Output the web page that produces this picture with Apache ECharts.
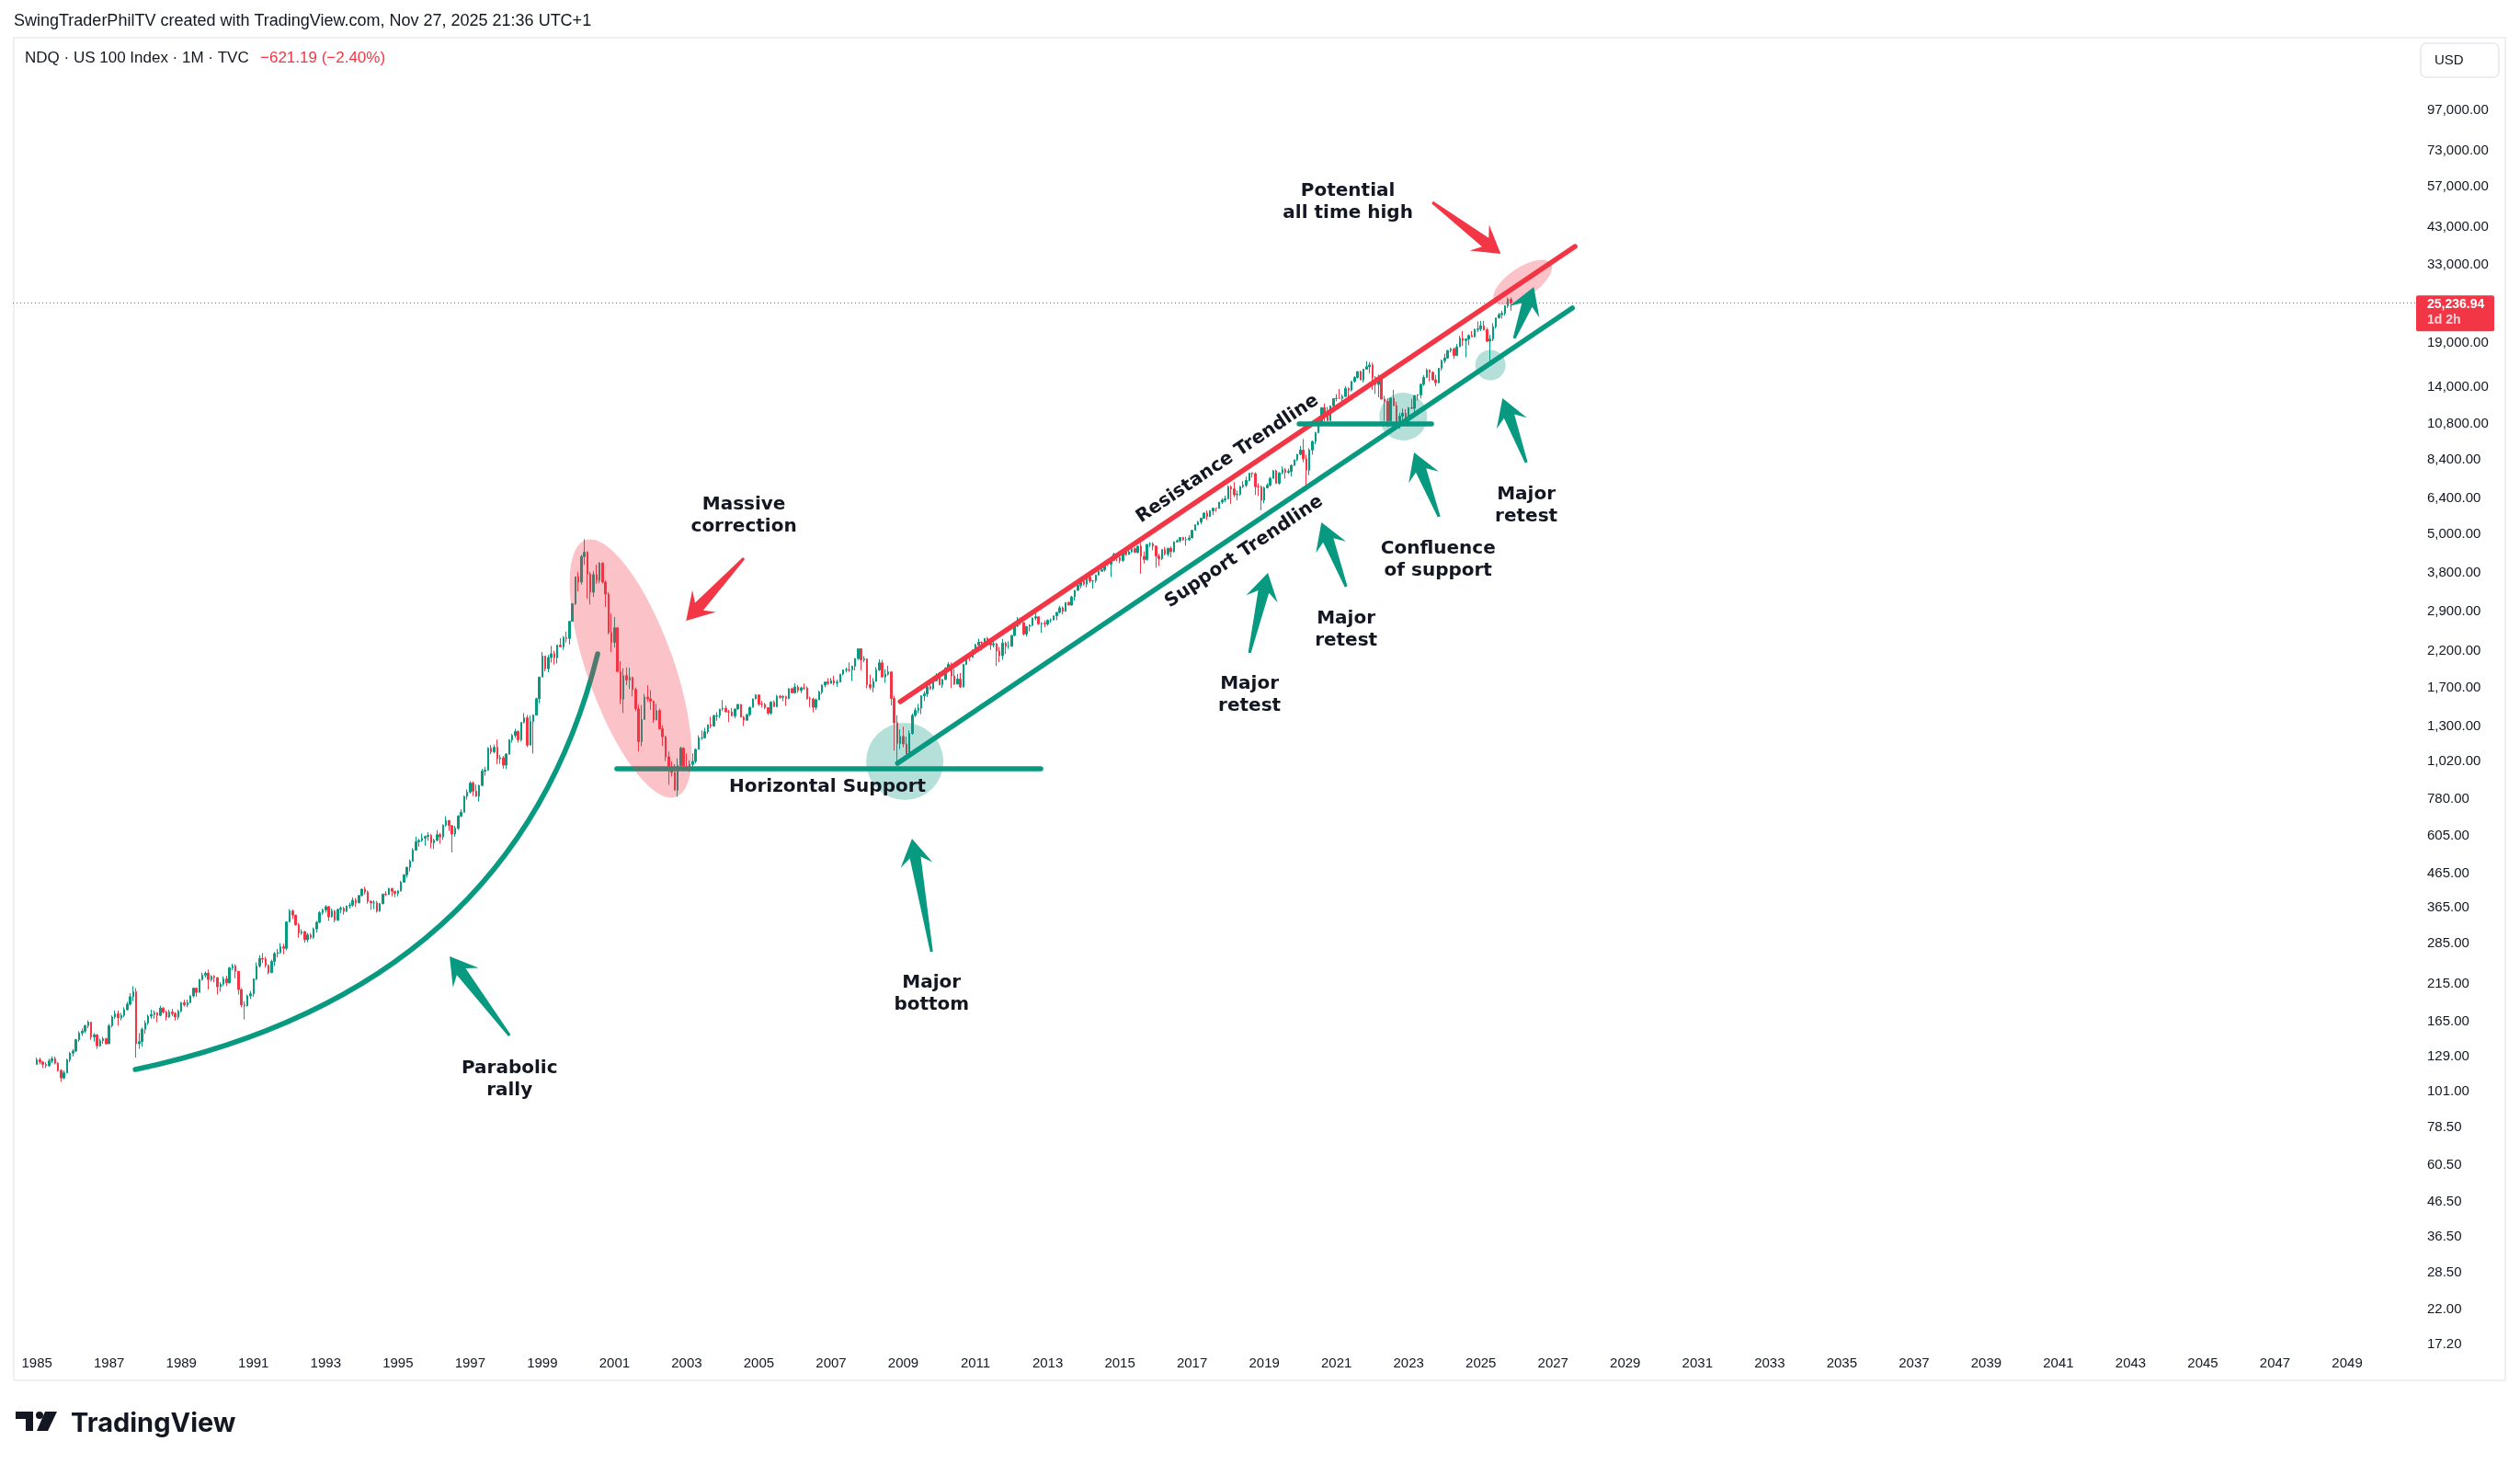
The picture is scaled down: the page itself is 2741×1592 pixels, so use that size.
<!DOCTYPE html>
<html><head><meta charset="utf-8">
<script src="https://cdn.jsdelivr.net/npm/echarts@6/dist/echarts.min.js"></script>
<style>html,body{margin:0;padding:0;background:#fff}#c{width:2741px;height:1592px}</style>
</head><body><div id="c"></div>
<script>
// ---------------- DATA (NDQ · US 100 Index, monthly, Jan 1985 .. Nov 2025) ----------------
const startYear = 1985;
const firstOpen = 122;
const closes = [
126,124,122,121,125,127,123,117,111,115,126,132,
134,145,152,154,160,164,148,150,139,144,146,141,
160,170,174,169,172,179,186,196,203,141,143,156,
163,171,173,175,172,181,176,170,176,174,170,177,
188,185,188,197,208,202,221,228,231,221,226,224,
210,214,222,216,240,243,234,206,185,184,197,200,
222,243,256,255,244,232,251,265,267,278,275,331,
357,347,324,306,309,292,302,297,315,330,353,360,
368,343,357,335,361,364,356,370,372,385,378,398,
416,408,382,378,378,357,376,402,401,418,410,404,
411,437,460,485,506,547,580,585,594,601,606,576,
586,609,600,651,673,649,612,637,694,713,797,821,
874,826,797,860,950,957,1116,1088,1123,1036,1044,991,
1071,1183,1221,1254,1184,1337,1381,1140,1345,1407,1578,1836,
2128,1947,2106,2162,2104,2296,2270,2421,2407,2713,3069,3708,
3570,4266,4398,3773,3324,3763,3609,4078,3570,3282,2507,2341,
2593,1908,1573,1855,1799,1830,1683,1470,1169,1364,1596,1577,
1550,1359,1452,1278,1209,1051,963,942,832,989,1116,984,
976,996,1018,1107,1201,1201,1252,1316,1303,1400,1403,1468,
1476,1441,1438,1400,1468,1516,1387,1358,1412,1486,1576,1621,
1519,1516,1483,1427,1542,1494,1605,1594,1601,1580,1693,1645,
1713,1672,1703,1701,1580,1575,1486,1567,1654,1736,1774,1757,
1792,1761,1772,1874,1929,1934,1932,1981,2091,2239,2071,2085,
1741,1709,1781,1930,2029,1837,1872,1904,1580,1333,1154,1212,
1149,1071,1238,1404,1455,1477,1611,1632,1717,1695,1789,1860,
1741,1804,1957,2006,1850,1748,1811,1714,2007,2120,2109,2218,
2300,2345,2338,2408,2378,2300,2318,2204,2132,2330,2277,2278,
2459,2623,2755,2690,2482,2616,2640,2776,2799,2666,2676,2661,
2731,2738,2819,2889,2983,2910,3096,3040,3219,3371,3488,3592,
3521,3698,3596,3608,3752,3850,3889,4082,4049,4158,4337,4236,
4152,4463,4333,4415,4508,4397,4589,4275,4182,4648,4665,4593,
4280,4202,4483,4341,4523,4418,4730,4771,4875,4801,4810,4864,
5129,5330,5436,5583,5788,5646,5880,5988,5979,6248,6337,6396,
6949,6853,6581,6605,6967,7040,7272,7659,7628,6967,6950,6330,
6907,7033,7378,7781,7127,7672,7849,7692,7749,8084,8406,8733,
8991,8462,7813,9000,9555,10157,10905,12111,11418,11052,12268,12888,
12925,12909,13091,13861,13686,14554,14960,15582,14690,15850,16135,16320,
14930,14237,14838,12855,12642,11028,12947,12272,10971,11405,11658,10940,
12102,12042,13181,13246,14254,14964,15758,15501,14715,14410,15947,16826,
17137,18044,18255,17441,18537,19683,19363,19575,20061,19890,20930,21012,
21478,20884,19278,19571,21341,22679,23218,23415,24680,25858,25236.94
];
const highs = [
128,128,125,124,127,129,129,124,118,117,127,133,
136,146,154,157,161,166,164,152,151,146,148,147,
162,172,178,178,175,182,189,201,211,208,152,158,
166,173,179,178,176,184,182,178,179,180,176,179,
189,192,192,198,209,209,222,232,234,237,228,228,
224,217,226,227,241,247,246,233,208,190,199,204,
223,249,262,266,259,246,254,268,274,285,284,332,
362,361,347,328,314,311,306,306,318,333,357,363,
372,370,363,360,363,369,368,371,379,393,391,399,
418,423,412,385,385,383,377,403,410,420,420,409,
413,441,462,486,512,554,601,592,614,606,620,612,
592,629,617,655,693,674,651,648,699,728,800,836,
886,885,865,864,966,980,1124,1141,1145,1185,1066,1057,
1078,1189,1233,1278,1265,1337,1427,1408,1402,1415,1590,1840,
2189,2114,2144,2285,2207,2304,2410,2445,2524,2717,3070,3710,
3836,4324,4816,4431,3839,3859,4030,4112,4100,3609,3331,2866,
2797,2577,2050,1953,1966,1961,1842,1707,1515,1510,1632,1734,
1675,1558,1524,1473,1310,1220,1091,1016,998,1040,1129,1125,
1076,1025,1077,1114,1221,1264,1287,1318,1392,1413,1436,1470,
1564,1504,1459,1479,1472,1521,1520,1399,1420,1492,1580,1627,
1624,1553,1533,1486,1551,1561,1621,1621,1618,1612,1700,1706,
1758,1738,1717,1756,1720,1601,1590,1583,1671,1745,1780,1821,
1825,1854,1804,1877,1938,1962,2034,1989,2095,2239,2236,2128,
2084,1867,1824,1970,2079,2069,1940,1987,1913,1611,1406,1273,
1298,1211,1264,1424,1482,1522,1615,1661,1735,1772,1807,1885,
1903,1812,1966,2039,2032,1943,1875,1890,2011,2130,2139,2225,
2322,2403,2355,2410,2432,2385,2437,2332,2266,2398,2354,2360,
2461,2629,2795,2784,2690,2625,2660,2787,2878,2808,2696,2732,
2750,2769,2823,2890,3025,3012,3097,3118,3244,3373,3510,3602,
3625,3708,3739,3611,3756,3859,3967,4083,4114,4166,4384,4323,
4282,4467,4484,4514,4550,4563,4610,4695,4426,4654,4719,4719,
4590,4351,4492,4566,4543,4587,4749,4815,4893,4904,4902,4966,
5140,5342,5478,5596,5826,5896,5913,6011,6005,6249,6422,6537,
7023,7022,7187,6777,6997,7242,7466,7660,7697,7700,7120,7022,
6964,7131,7460,7834,7851,7696,8027,7932,7906,8125,8411,8750,
9261,9718,8705,9109,9612,10221,10914,12111,12466,12173,12289,12903,
13309,13807,13277,14064,13947,14572,15084,15598,15701,15871,16765,16660,
16574,15100,15265,15060,13150,12949,12977,13720,12615,11682,12030,11978,
12164,12880,13204,13292,14345,15185,15932,15822,15619,15225,16003,16969,
17665,18138,18417,18465,18909,20017,20691,19673,20225,20690,21060,22133,
22223,22223,21185,20138,21858,22717,23499,23866,24767,26182,26183
];
const lows = [
122,122,119,119,120,123,122,116,108,110,115,124,
129,133,143,149,152,157,145,143,136,138,141,140,
141,158,168,160,166,170,178,184,190,128,136,138,
151,161,168,168,164,171,174,166,169,171,166,167,
176,183,182,187,195,196,202,219,224,206,218,217,
199,203,211,211,215,236,223,199,182,167,183,193,
196,220,240,248,240,229,231,243,258,265,264,271,
330,338,322,296,302,286,287,293,294,307,328,348,
353,333,341,330,333,352,348,355,363,368,367,377,
395,401,376,360,362,353,355,374,396,399,396,393,
396,409,436,451,471,505,549,560,580,564,584,553,
551,581,572,588,645,626,538,601,630,688,712,779,
812,798,794,768,856,921,953,1070,1076,999,1001,967,
964,1066,1160,1199,1161,1170,1327,1123,1139,1075,1406,1528,
1845,1911,1900,2031,2004,2019,2262,2222,2339,2306,2704,3041,
3343,3511,4030,3179,3052,3219,3530,3542,3538,2999,2474,2188,
2259,1908,1520,1427,1735,1689,1604,1447,1090,1131,1369,1547,
1461,1334,1378,1271,1135,1020,864,916,829,795,965,976,
957,945,956,1003,1105,1183,1196,1233,1283,1311,1352,1379,
1446,1434,1340,1396,1376,1460,1385,1304,1353,1394,1491,1571,
1499,1484,1465,1407,1410,1489,1485,1577,1551,1501,1571,1638,
1635,1646,1642,1680,1567,1489,1435,1460,1563,1628,1710,1737,
1756,1737,1715,1787,1858,1897,1901,1785,1924,2067,1927,2036,
1697,1680,1650,1781,1915,1837,1765,1855,1505,1097,1010,1109,
1123,1071,1043,1227,1389,1426,1417,1553,1598,1676,1677,1782,
1733,1701,1807,1961,1700,1738,1750,1700,1706,2003,2054,2102,
2215,2274,2209,2312,2327,2221,2260,1984,2037,2073,2160,2237,
2277,2444,2601,2644,2456,2442,2528,2620,2731,2646,2501,2602,
2627,2689,2737,2733,2870,2847,2907,3039,3027,3137,3358,3417,
3485,3443,3547,3413,3556,3737,3854,3842,3993,3700,4150,4125,
4072,4114,4290,4324,4375,4384,4363,3787,4073,4148,4568,4458,
3948,3996,4162,4303,4277,4245,4394,4715,4709,4777,4605,4764,
4878,5125,5339,5350,5570,5519,5659,5708,5839,5989,6167,6242,
6397,6165,6477,6322,6541,6898,6938,7234,7413,6570,6535,5899,
6198,6911,6968,7376,7101,7065,7593,7361,7622,7481,8046,8323,
8677,8265,6771,7544,8708,9382,10120,10871,10677,11036,11176,12160,
12670,12873,12209,13236,12934,13555,14422,14850,14686,14437,15809,15385,
13725,13322,13020,12812,11036,10565,11069,12257,10953,10441,10934,10672,
10797,11974,11695,12725,12912,14096,14898,14557,14634,14058,14354,15695,
16539,17044,17812,17033,17372,18526,18643,17221,18746,19834,19795,20538,
20671,20779,19153,16542,19270,21071,22645,22589,23084,24320,23855
];
const yTickLabels = [97000,73000,57000,43000,33000,19000,14000,10800,8400,6400,5000,3800,2900,2200,1700,1300,1020,780,605,465,365,285,215,165,129,101,78.5,60.5,46.5,36.5,28.5,22,17.2];
const xTickYears = [1985,1987,1989,1991,1993,1995,1997,1999,2001,2003,2005,2007,2009,2011,2013,2015,2017,2019,2021,2023,2025,2027,2029,2031,2033,2035,2037,2039,2041,2043,2045,2047,2049];
const lastPrice = 25236.94;
const lastChange = '\u2212621.19 (\u22122.40%)';

// ---------------- ANNOTATIONS (data space: [month index from Jan 1985, price]) ----------------
const trendLines = [
  {color:'red',   pts:[[287.0,1546],[511.3,37410]]},   // resistance
  {color:'green', pts:[[286.1,1004.4],[510.4,24310]]}, // support
  {color:'green', pts:[[192.8,966.2],[333.7,966.2]]},  // horizontal support
  {color:'green', pts:[[419.6,10802],[463.6,10802]]}   // confluence level
];
const parabola = {from:[32.7,117.7], ctrl:[158.9,207.5], to:[186.4,2161]};
const arrows = [
  {color:'green', tip:[137.2,259.9], tail:[157.1,149.4]},
  {color:'red',   tip:[215.8,2724],  tail:[235.0,4220]},
  {color:'green', tip:[290.9,592.6], tail:[297.4,268.5]},
  {color:'green', tip:[409.2,3807],  tail:[403.1,2175]},
  {color:'green', tip:[427.0,5425],  tail:[435.2,3456]},
  {color:'green', tip:[457.8,8848],  tail:[466.1,5638]},
  {color:'green', tip:[487.2,12935], tail:[495.1,8246]},
  {color:'green', tip:[497.6,28180], tail:[491.1,19660]},
  {color:'red',   tip:[486.6,35540], tail:[463.9,50950]}
];
const notes = [
  {text:'Massive\ncorrection', at:[235.0,5675]},
  {text:'Potential\nall time high', at:[435.8,51120]},
  {text:'Horizontal Support', at:[262.8,849.6]},
  {text:'Major\nbottom', at:[297.4,199.6]},
  {text:'Parabolic\nrally', at:[157.1,110.1]},
  {text:'Major\nretest', at:[403.1,1623]},
  {text:'Major\nretest', at:[435.2,2563]},
  {text:'Confluence\nof support', at:[465.8,4168]},
  {text:'Major\nretest', at:[495.1,6090]}
];
const lineNotes = [
  {text:'Resistance Trendline', at:[395.8,8458], line:0},
  {text:'Support Trendline', at:[401.3,4415], line:1}
];
const circles = [{at:[288.5,1017], r:42}, {at:[454.2,11371], r:26}, {at:[483.2,16312], r:16.5}];
const ellipses = [{at:[197.4,1949], rx:148, ry:47, deg:-70.5}, {at:[493.9,29110], rx:37, ry:16, line:0}];

// ---------------- CHART ----------------
const GREEN = '#089981', RED = '#F23645', TXT = '#131722';
const COL = {green:GREEN, red:RED};
const chart = echarts.init(document.getElementById('c'), null, {width:2741, height:1592});

const candles = closes.map((c, i) => {
  const o = i === 0 ? firstOpen : closes[i - 1];
  return [i, o, c, Math.min(lows[i], o, c), Math.max(highs[i], o, c)];
});
const fmtPrice = v => Number(v).toLocaleString('en-US', {minimumFractionDigits:2, maximumFractionDigits:2});

const series = [{
  type:'candlestick', data:candles, encode:{x:0, y:[1,2,3,4]}, barWidth:2, z:2,
  itemStyle:{color:GREEN, color0:RED, borderColor:GREEN, borderColor0:RED, borderWidth:1},
  markLine:{silent:true, symbol:'none', label:{show:false},
    lineStyle:{color:RED, width:1, type:[1,3]}, data:[{yAxis:lastPrice}]}
}];
trendLines.forEach(t => series.push({
  type:'line', data:t.pts, symbol:'none', silent:true, z:3,
  lineStyle:{color:COL[t.color], width:5.5, cap:'round'}
}));

chart.setOption({
  animation:false,
  backgroundColor:'#ffffff',
  grid:{left:14, right:114, top:41, bottom:128},
  xAxis:{type:'value', min:-8, max:790.6,
    axisLine:{show:false}, axisTick:{show:false}, splitLine:{show:false},
    axisLabel:{customValues:xTickYears.map(y => (y - startYear) * 12),
      formatter:v => String(startYear + Math.round(v / 12)),
      color:TXT, fontSize:15, fontFamily:'Liberation Sans', margin:11}},
  yAxis:{type:'log', logBase:10, position:'right', min:16.96, max:161330,
    axisLine:{show:false}, axisTick:{show:false}, splitLine:{show:false},
    axisLabel:{customValues:yTickLabels, formatter:v => fmtPrice(v),
      color:TXT, fontSize:15, fontFamily:'Liberation Sans', margin:13}},
  series:series
});

// ---------------- overlay drawings via the chart's scales ----------------
const P = d => chart.convertToPixel({xAxisIndex:0, yAxisIndex:0}, d);
const lineAngle = idx => {
  const a = P(trendLines[idx].pts[0]), b = P(trendLines[idx].pts[1]);
  return Math.atan2(a[1] - b[1], b[0] - a[0]);
};
function arrowPts(tip, tail) {
  const dx = tip[0] - tail[0], dy = tip[1] - tail[1], L = Math.hypot(dx, dy);
  const ux = dx / L, uy = dy / L, nx = -uy, ny = ux;
  const H = 29, W = 35, S = 12, T = 3, N = H * 0.72;
  const at = (d, w) => [tip[0] - ux * d + nx * w, tip[1] - uy * d + ny * w];
  return [tip, at(H, W / 2), at(N, S / 2), [tail[0] + nx * T / 2, tail[1] + ny * T / 2],
          [tail[0] - nx * T / 2, tail[1] - ny * T / 2], at(N, -S / 2), at(H, -W / 2)];
}
const NOTE_FONT = 'bold 20px "DejaVu Sans"';
const g = [];
// parabolic curve
{
  const a = P(parabola.from), c = P(parabola.ctrl), b = P(parabola.to);
  g.push({type:'bezierCurve', z:3, silent:true,
    shape:{x1:a[0], y1:a[1], cpx1:c[0], cpy1:c[1], x2:b[0], y2:b[1]},
    style:{stroke:GREEN, lineWidth:5.5, lineCap:'round', fill:null}});
}
ellipses.forEach(e => {
  const p = P(e.at);
  const rot = e.line != null ? lineAngle(e.line) : e.deg * Math.PI / 180;
  g.push({type:'ellipse', z:4, silent:true, x:p[0], y:p[1], rotation:rot,
    shape:{cx:0, cy:0, rx:e.rx, ry:e.ry}, style:{fill:'rgba(242,54,69,0.3)'}});
});
circles.forEach(c => {
  const p = P(c.at);
  g.push({type:'circle', z:4, silent:true, shape:{cx:p[0], cy:p[1], r:c.r},
    style:{fill:'rgba(8,153,129,0.3)'}});
});
arrows.forEach(a => {
  g.push({type:'polygon', z:5, silent:true, shape:{points:arrowPts(P(a.tip), P(a.tail))},
    style:{fill:COL[a.color]}});
});
notes.forEach(n => {
  const p = P(n.at);
  g.push({type:'text', z:6, silent:true, x:p[0], y:p[1],
    style:{text:n.text, font:NOTE_FONT, fill:TXT, align:'center', verticalAlign:'middle', lineHeight:24}});
});
lineNotes.forEach(n => {
  const p = P(n.at);
  g.push({type:'text', z:6, silent:true, x:p[0], y:p[1], rotation:lineAngle(n.line),
    style:{text:n.text, font:NOTE_FONT, fill:TXT, align:'center', verticalAlign:'middle'}});
});
// last price tag on the price scale
{
  const py = P([0, lastPrice])[1];
  const gr = chart.getModel().getComponent('grid', 0).coordinateSystem.getRect();
  const x0 = gr.x + gr.width + 1;
  g.push({type:'rect', z:6, silent:true, shape:{x:x0, y:py - 8, width:85, height:39, r:2}, style:{fill:RED}});
  g.push({type:'text', z:7, silent:true, x:x0 + 12, y:py + 2,
    style:{text:fmtPrice(lastPrice), font:'bold 14px "Liberation Sans"', fill:'#ffffff', verticalAlign:'middle'}});
  g.push({type:'text', z:7, silent:true, x:x0 + 12, y:py + 19,
    style:{text:'1d 2h', font:'bold 14px "Liberation Sans"', fill:'rgba(255,255,255,0.8)', verticalAlign:'middle'}});
}
// chrome: frame, header, currency box, logo
g.push({type:'rect', z:1, silent:true, shape:{x:15, y:41, width:2710, height:1460},
  style:{fill:null, stroke:'#EEF0F3', lineWidth:2}});
g.push({type:'text', z:7, silent:true, x:15, y:23,
  style:{text:'SwingTraderPhilTV created with TradingView.com, Nov 27, 2025 21:36 UTC+1',
    font:'18px "Liberation Sans"', fill:TXT, verticalAlign:'middle'}});
g.push({type:'text', z:7, silent:true, x:27, y:63,
  style:{text:'NDQ \u00b7 US 100 Index \u00b7 1M \u00b7 TVC', font:'17px "Liberation Sans"', fill:TXT, verticalAlign:'middle'}});
g.push({type:'text', z:7, silent:true, x:283, y:63,
  style:{text:lastChange, font:'17px "Liberation Sans"', fill:RED, verticalAlign:'middle'}});
g.push({type:'rect', z:7, silent:true, shape:{x:2633, y:47, width:85, height:37, r:6},
  style:{fill:'#ffffff', stroke:'#E6E8EC', lineWidth:1.5}});
g.push({type:'text', z:8, silent:true, x:2648, y:66,
  style:{text:'USD', font:'15px "Liberation Sans"', fill:TXT, verticalAlign:'middle'}});
// TradingView logo
g.push({type:'rect', z:7, silent:true, shape:{x:17, y:1535, width:19, height:8}, style:{fill:'#131722'}});
g.push({type:'rect', z:7, silent:true, shape:{x:28, y:1535, width:8, height:21}, style:{fill:'#131722'}});
g.push({type:'circle', z:7, silent:true, shape:{cx:43, cy:1539, r:4}, style:{fill:'#131722'}});
g.push({type:'polygon', z:7, silent:true, shape:{points:[[49,1535],[62,1535],[52,1556],[40,1556]]}, style:{fill:'#131722'}});
g.push({type:'text', z:7, silent:true, x:77, y:1548,
  style:{text:'TradingView', font:'bold 29px "Inter"', fill:'#131722', verticalAlign:'middle'}});

chart.setOption({graphic:{elements:g}});
</script>
</body></html>
